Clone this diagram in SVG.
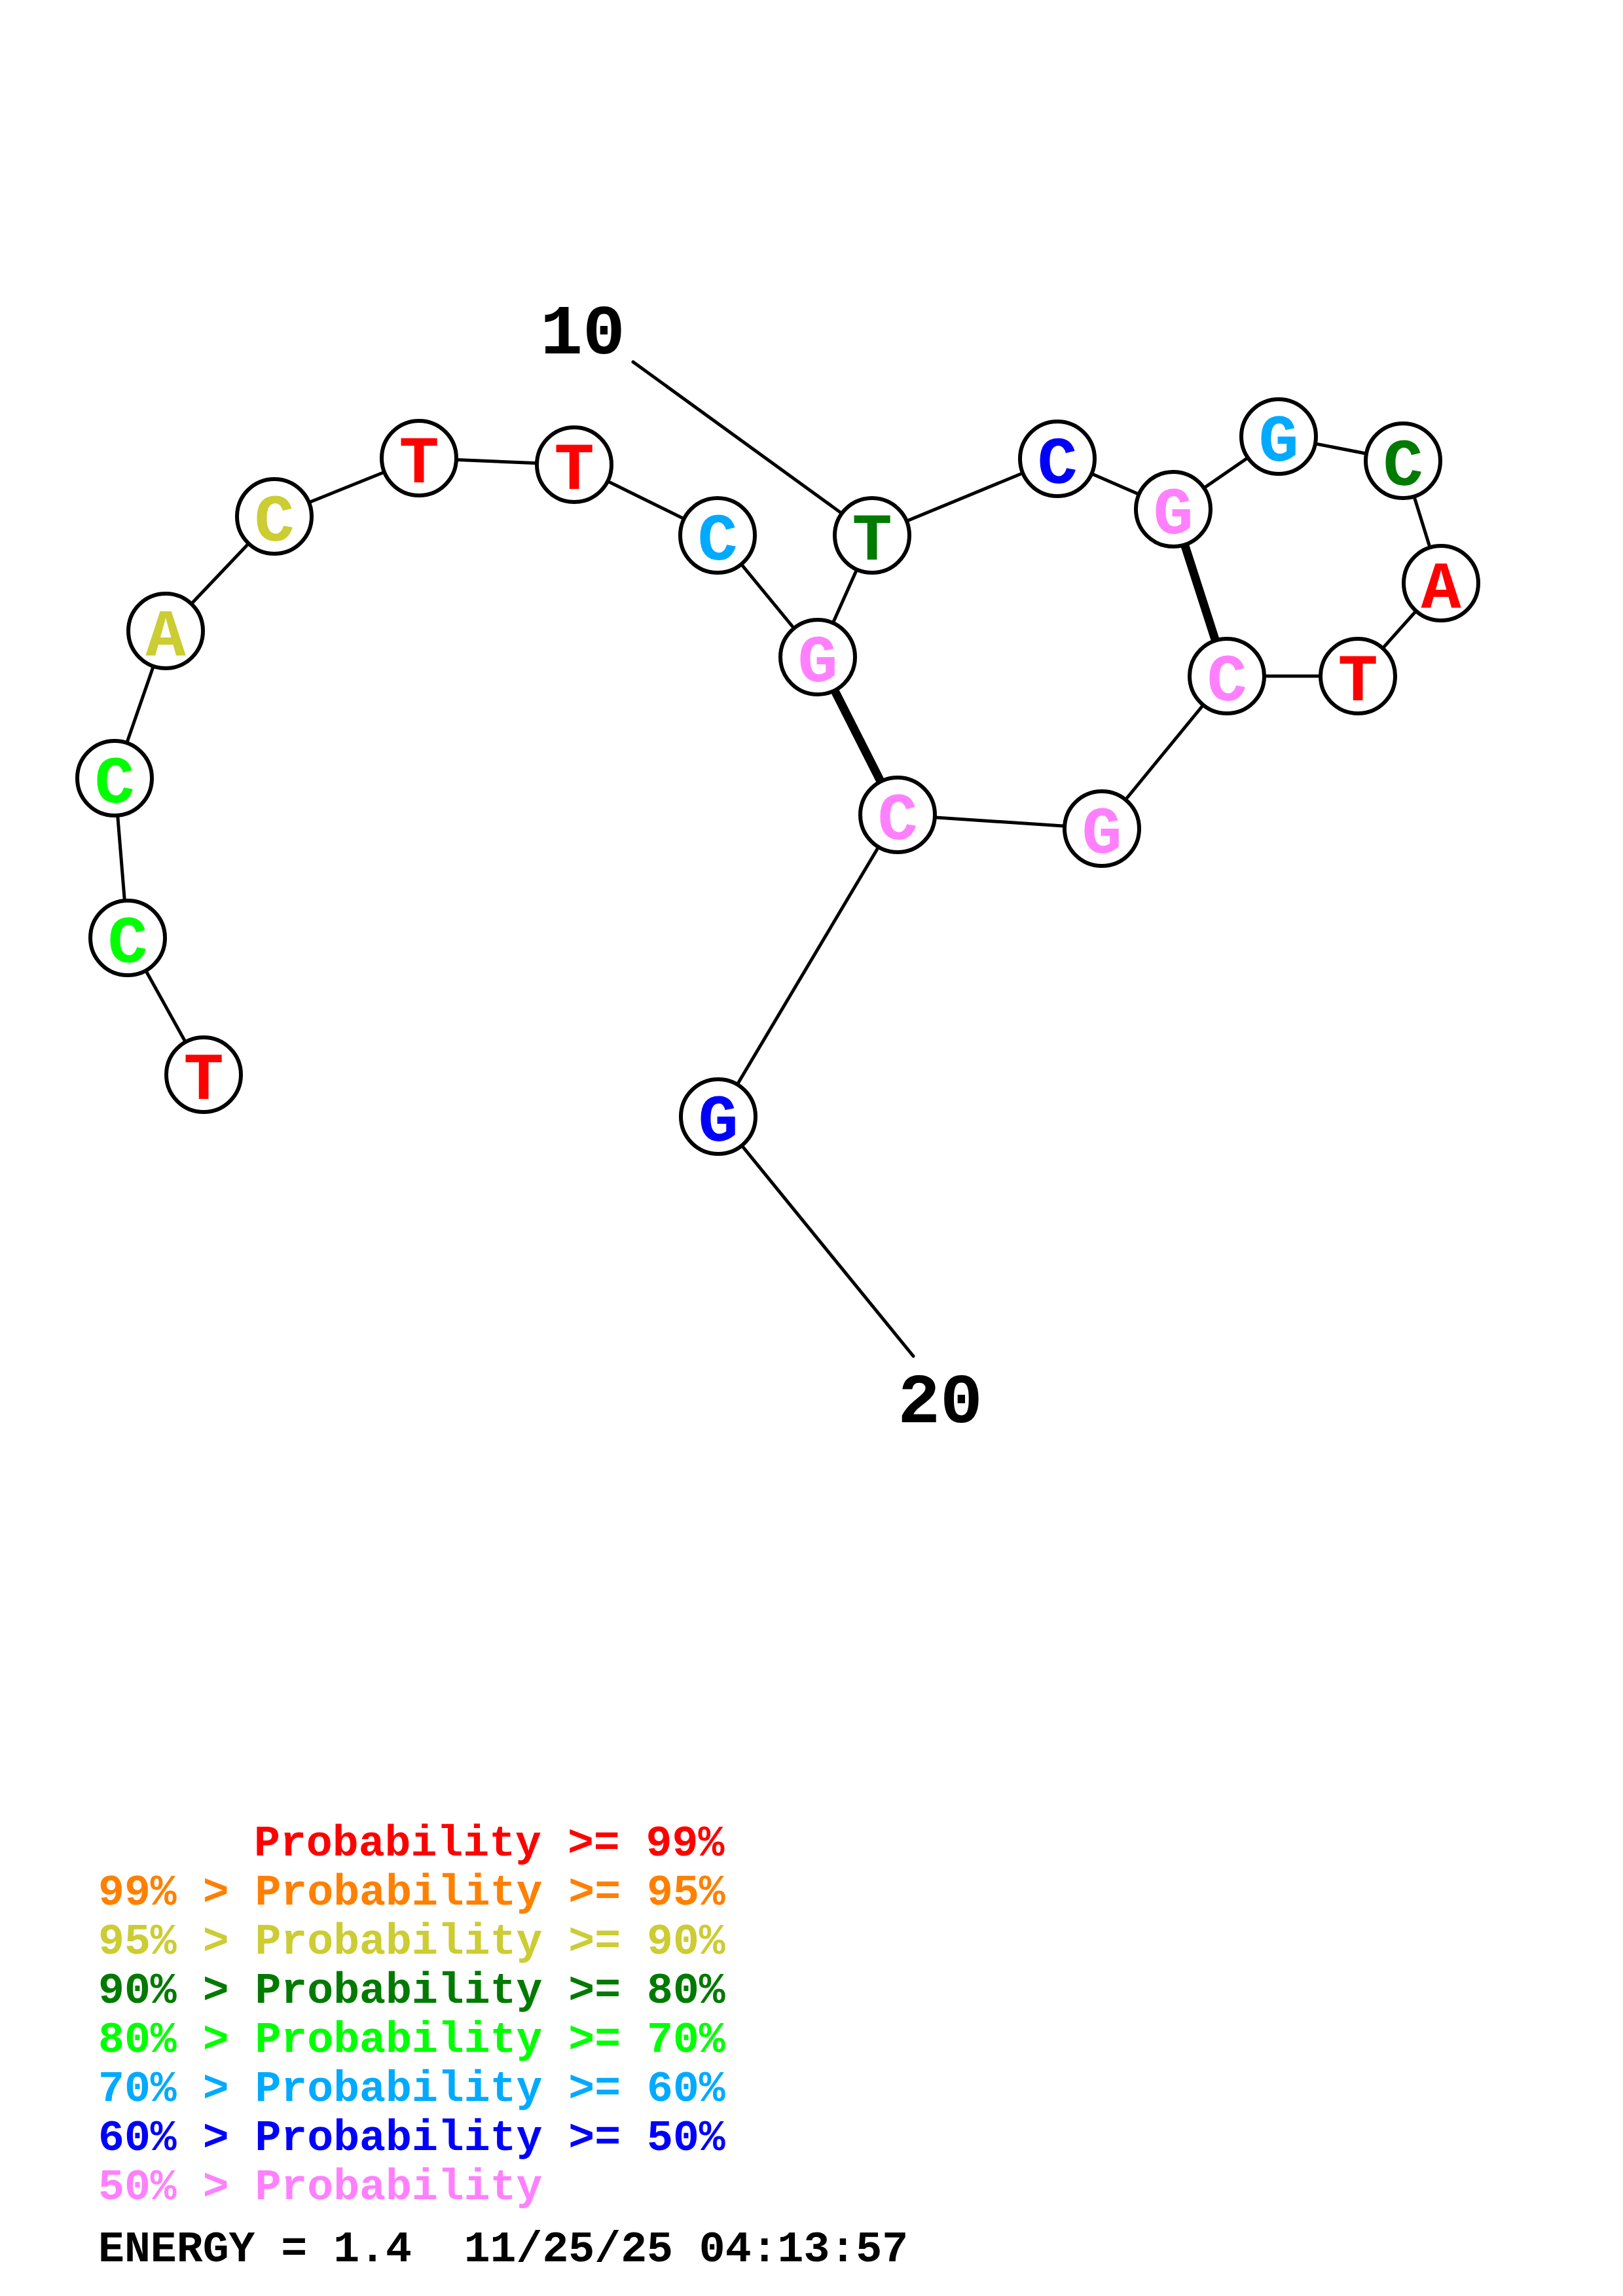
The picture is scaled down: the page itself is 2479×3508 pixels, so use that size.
<svg xmlns="http://www.w3.org/2000/svg" width="2479" height="3508" viewBox="0 0 2479 3508">
<style>
.bg{fill:#ffffff}
.bb{stroke:#000;stroke-width:5;fill:none;stroke-linecap:round}
.pair{stroke:#000;stroke-width:13;fill:none}
.nc{fill:#ffffff;stroke:#000;stroke-width:6}
.nl{font-family:"Liberation Mono","DejaVu Sans Mono",monospace;font-weight:bold;font-size:102px;text-anchor:middle}
.num{font-family:"Liberation Mono","DejaVu Sans Mono",monospace;font-weight:bold;font-size:108px;text-anchor:middle;fill:#000}
.lg{font-family:"Liberation Mono","DejaVu Sans Mono",monospace;font-weight:bold;font-size:66.5px}
.red{fill:#ff0000}.org{fill:#ff8000}.olv{fill:#cccc33}.dgr{fill:#007a00}.lim{fill:#00ff00}.cya{fill:#00aaff}.blu{fill:#0000ff}.pnk{fill:#ff80ff}.blk{fill:#000}
</style>
<rect class="bg" x="0" y="0" width="2479" height="3508"/>
<g id="connectors">
<polyline class="bb" points="311,1642 195,1433 175,1189 253,964 419,789 640,700 877,710 1096,818 1249,1004 1332,818 1615,701 1792,778 1953,667 2143,704 2201,891 2074,1033 1874,1033 1683,1266 1371,1245 1097,1706"/>
<line class="pair" x1="1249" y1="1004" x2="1371" y2="1245"/>
<line class="pair" x1="1792" y1="778" x2="1874" y2="1033"/>
<line class="bb" x1="967" y1="553" x2="1332" y2="818"/>
<line class="bb" x1="1097" y1="1706" x2="1395" y2="2072"/>
</g>
<g id="n1"><circle class="nc" cx="311" cy="1642" r="57"/><text class="nl red" x="311" y="1679">T</text></g>
<g id="n2"><circle class="nc" cx="195" cy="1433" r="57"/><text class="nl lim" x="195" y="1470">C</text></g>
<g id="n3"><circle class="nc" cx="175" cy="1189" r="57"/><text class="nl lim" x="175" y="1226">C</text></g>
<g id="n4"><circle class="nc" cx="253" cy="964" r="57"/><text class="nl olv" x="253" y="1001">A</text></g>
<g id="n5"><circle class="nc" cx="419" cy="789" r="57"/><text class="nl olv" x="419" y="826">C</text></g>
<g id="n6"><circle class="nc" cx="640" cy="700" r="57"/><text class="nl red" x="640" y="737">T</text></g>
<g id="n7"><circle class="nc" cx="877" cy="710" r="57"/><text class="nl red" x="877" y="747">T</text></g>
<g id="n8"><circle class="nc" cx="1096" cy="818" r="57"/><text class="nl cya" x="1096" y="855">C</text></g>
<g id="n9"><circle class="nc" cx="1249" cy="1004" r="57"/><text class="nl pnk" x="1249" y="1041">G</text></g>
<g id="n10"><circle class="nc" cx="1332" cy="818" r="57"/><text class="nl dgr" x="1332" y="855">T</text></g>
<g id="n11"><circle class="nc" cx="1615" cy="701" r="57"/><text class="nl blu" x="1615" y="738">C</text></g>
<g id="n12"><circle class="nc" cx="1792" cy="778" r="57"/><text class="nl pnk" x="1792" y="815">G</text></g>
<g id="n13"><circle class="nc" cx="1953" cy="667" r="57"/><text class="nl cya" x="1953" y="704">G</text></g>
<g id="n14"><circle class="nc" cx="2143" cy="704" r="57"/><text class="nl dgr" x="2143" y="741">C</text></g>
<g id="n15"><circle class="nc" cx="2201" cy="891" r="57"/><text class="nl red" x="2201" y="928">A</text></g>
<g id="n16"><circle class="nc" cx="2074" cy="1033" r="57"/><text class="nl red" x="2074" y="1070">T</text></g>
<g id="n17"><circle class="nc" cx="1874" cy="1033" r="57"/><text class="nl pnk" x="1874" y="1070">C</text></g>
<g id="n18"><circle class="nc" cx="1683" cy="1266" r="57"/><text class="nl pnk" x="1683" y="1303">G</text></g>
<g id="n19"><circle class="nc" cx="1371" cy="1245" r="57"/><text class="nl pnk" x="1371" y="1282">C</text></g>
<g id="n20"><circle class="nc" cx="1097" cy="1706" r="57"/><text class="nl blu" x="1097" y="1743">G</text></g>
<g id="labels">
<text class="num" x="890" y="540">10</text>
<text class="num" x="1436" y="2173">20</text>
</g>
<g id="legend" class="lg">
<text class="red" x="388" y="2835">Probability &gt;= 99%</text>
<text class="org" x="150" y="2910">99% &gt; Probability &gt;= 95%</text>
<text class="olv" x="150" y="2985">95% &gt; Probability &gt;= 90%</text>
<text class="dgr" x="150" y="3060">90% &gt; Probability &gt;= 80%</text>
<text class="lim" x="150" y="3135">80% &gt; Probability &gt;= 70%</text>
<text class="cya" x="150" y="3210">70% &gt; Probability &gt;= 60%</text>
<text class="blu" x="150" y="3285">60% &gt; Probability &gt;= 50%</text>
<text class="pnk" x="150" y="3360">50% &gt; Probability</text>
<text class="blk" x="150" y="3455" xml:space="preserve">ENERGY = 1.4  11/25/25 04:13:57</text>
</g>
</svg>
